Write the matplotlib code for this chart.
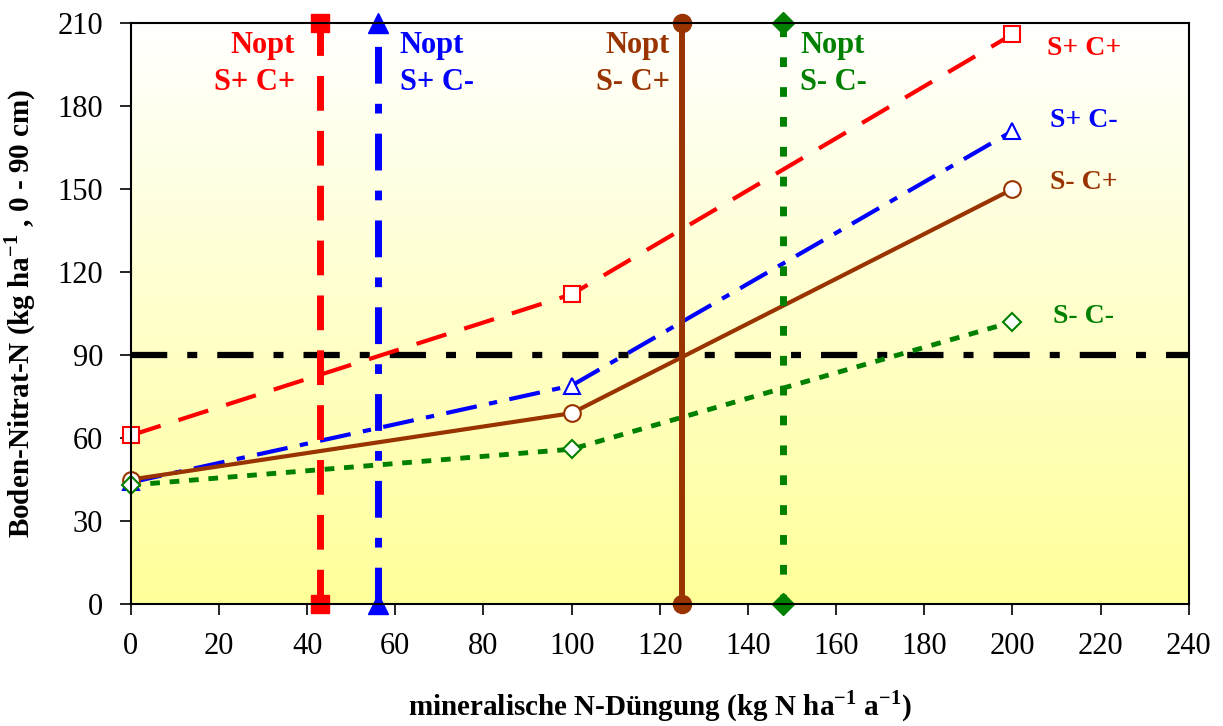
import numpy as np
import matplotlib.pyplot as plt
from matplotlib.colors import LinearSegmentedColormap

plt.rcParams['font.family'] = ['Liberation Serif', 'DejaVu Serif']
plt.rcParams['mathtext.fontset'] = 'custom'
plt.rcParams['mathtext.rm'] = 'Liberation Serif'
plt.rcParams['mathtext.bf'] = 'Liberation Serif:bold'

# data
n_rates = [0, 100, 200]
s_pc_pc = [61, 112, 206]   # S+ C+
s_pc_cm = [44, 79, 171]    # S+ C-
s_mc_cp = [45, 69, 150]    # S- C+
s_mc_cm = [43, 56, 102]    # S- C-
labels = ['S+ C+', 'S+ C-', 'S- C+', 'S- C-']
nopt = [43, 56, 125, 148]
threshold = 90

red, blue, brown, green = '#FF0000', '#0000FF', '#993300', '#008000'

fig = plt.figure(figsize=(12.23, 7.26), dpi=100)
ax = fig.add_axes([0.107, 0.168, 0.865, 0.8])
ax.set_xlim(0, 240)
ax.set_ylim(0, 210)

# background gradient: white at top, pale yellow at bottom
cmap = LinearSegmentedColormap.from_list('bg', ['#FFFF99', '#FFFFFF'])
grad = np.linspace(0, 1, 256).reshape(-1, 1)
ax.imshow(grad, cmap=cmap, aspect='auto', origin='lower',
          extent=[0, 240, 0, 210], zorder=0)

# threshold line
ax.axhline(threshold, color='black', lw=4.5, ls=(0, (5.8, 3.2, 1.6, 3.2)), zorder=2)

# series
series = [s_pc_pc, s_pc_cm, s_mc_cp, s_mc_cm]
colors = [red, blue, brown, green]
markers = ['s', '^', 'o', 'D']
msizes = [11, 12, 12, 9]
styles = [(0, (7.5, 4.5)), (0, (7.5, 3, 2, 3)), '-', (0, (2, 2))]
lws = [3, 3, 3, 3.5]
for ys, c, m, ms, st, lw in zip(series, colors, markers, msizes, styles, lws):
    ax.plot(n_rates, ys, color=c, lw=lw, ls=st, zorder=3)
    ax.plot(n_rates, ys, ls='none', marker=m, ms=ms, mfc='white', mec=c,
            mew=1.5, zorder=4, clip_on=False)

# Nopt vertical lines
vstyles = [(0, (5, 2.9)), (0, (5.3, 2.9, 1.4, 2.9)), '-', (0, (1.4, 2.9))]
vlws = [5, 5, 4.3, 5]
vms = [13, 14, 13, 11]
for xv, c, m, ms, st, lw in zip(nopt, colors, markers, vms, vstyles, vlws):
    ax.plot([xv, xv], [0, 210], color=c, lw=lw, ls=st, zorder=5, clip_on=False)
    ax.plot([xv, xv], [0, 210], ls='none', marker=m, ms=ms, color=c,
            zorder=6, clip_on=False)

# Nopt labels
tkw = dict(fontsize=22, fontweight='bold', va='center', zorder=7)
ax.text(37.2, 202, 'Nopt', color=red, ha='right', **tkw)
ax.text(37.2, 188.6, labels[0], color=red, ha='right', **tkw)
ax.text(61, 202, 'Nopt', color=blue, ha='left', **tkw)
ax.text(61, 188.6, labels[1], color=blue, ha='left', **tkw)
ax.text(122.3, 202, 'Nopt', color=brown, ha='right', **tkw)
ax.text(122.3, 188.6, labels[2], color=brown, ha='right', **tkw)
ax.text(151.8, 202, 'Nopt', color=green, ha='left', **tkw)
ax.text(151.8, 188.6, labels[3], color=green, ha='left', **tkw)

# series labels at right
rkw = dict(fontsize=20, fontweight='bold', ha='left', va='center', zorder=7)
ax.text(207.8, 201, labels[0], color=red, **rkw)
ax.text(208.5, 175, labels[1], color=blue, **rkw)
ax.text(208.5, 152.5, labels[2], color=brown, **rkw)
ax.text(209.3, 104, labels[3], color=green, **rkw)

ax.set_xticks(np.arange(0, 241, 20))
ax.set_yticks(np.arange(0, 211, 30))
ax.tick_params(labelsize=22, length=8, width=1.2, direction='out', pad=12)
for sp in ax.spines.values():
    sp.set_linewidth(1.5)
    sp.set_zorder(8)

ax.set_xlabel('mineralische N-Düngung (kg N ha$^{\\mathbf{-1}}$ a$^{\\mathbf{-1}}$)',
              fontsize=21, fontweight='bold', labelpad=20)
ax.set_ylabel('Boden-Nitrat-N (kg ha$^{\\mathbf{-1}}$ , 0 - 90 cm)',
              fontsize=21, fontweight='bold', labelpad=14)

fig.savefig('out.png', dpi=100)
